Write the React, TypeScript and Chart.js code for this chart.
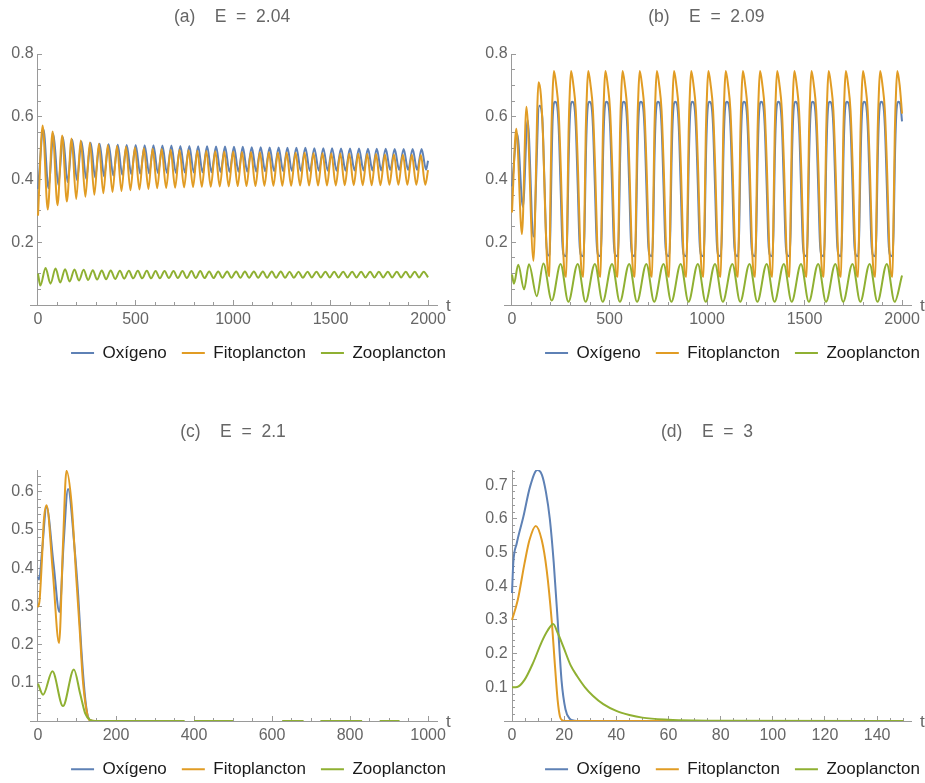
import { useEffect, useRef } from 'react';
import { Chart, registerables } from 'chart.js';

Chart.register(...registerables);
Chart.defaults.font.family = '"Liberation Sans", Arial, sans-serif';

// ---------- Panel (a)  E = 2.04 ----------
const tFa = [0, 24, 50, 75, 100, 124, 148, 172, 196, 219,
  243, 266, 289, 312, 335, 358, 382, 405, 428, 451,
  474, 497, 520, 543, 566, 588, 611, 634, 657, 680,
  703, 726, 749, 772, 795, 817, 840, 863, 886, 909,
  932, 955, 978, 1001, 1024, 1046, 1069, 1092, 1115, 1138,
  1161, 1184, 1207, 1230, 1253, 1275, 1298, 1321, 1344, 1367,
  1390, 1413, 1436, 1459, 1482, 1504, 1527, 1550, 1573, 1596,
  1619, 1642, 1665, 1688, 1711, 1733, 1756, 1779, 1802, 1825,
  1848, 1871, 1894, 1917, 1940, 1963, 1986, 2000];
const vFa = [0.285,
  0.572, 0.304, 0.553, 0.318, 0.540, 0.330, 0.531, 0.338, 0.524, 0.345,
  0.518, 0.351, 0.514, 0.356, 0.510, 0.360, 0.507, 0.363, 0.504, 0.366,
  0.502, 0.368, 0.500, 0.370, 0.498, 0.372, 0.497, 0.373, 0.495, 0.374,
  0.494, 0.375, 0.493, 0.376, 0.492, 0.377, 0.491, 0.377, 0.490, 0.378,
  0.489, 0.378, 0.489, 0.379, 0.488, 0.379, 0.488, 0.379, 0.487, 0.380,
  0.487, 0.380, 0.486, 0.380, 0.486, 0.380, 0.485, 0.381, 0.485, 0.381,
  0.484, 0.381, 0.484, 0.381, 0.483, 0.381, 0.483, 0.382, 0.482, 0.382,
  0.482, 0.382, 0.481, 0.382, 0.481, 0.382, 0.480, 0.383, 0.480, 0.383,
  0.479, 0.383, 0.479, 0.383, 0.478, 0.383,
  0.43];
const tOa = [0, 28, 54, 79, 104, 128, 152, 176, 200, 223,
  247, 270, 293, 316, 339, 362, 386, 409, 432, 455,
  478, 501, 524, 547, 570, 592, 615, 638, 661, 684,
  707, 730, 753, 776, 799, 821, 844, 867, 890, 913,
  936, 959, 982, 1005, 1028, 1050, 1073, 1096, 1119, 1142,
  1165, 1188, 1211, 1234, 1257, 1279, 1302, 1325, 1348, 1371,
  1394, 1417, 1440, 1463, 1486, 1508, 1531, 1554, 1577, 1600,
  1623, 1646, 1669, 1692, 1715, 1737, 1760, 1783, 1806, 1829,
  1852, 1875, 1898, 1921, 1944, 1967, 1990, 2000];
const vOa = [0.37,
  0.560, 0.372, 0.545, 0.383, 0.535, 0.392, 0.527, 0.398, 0.521, 0.403,
  0.517, 0.407, 0.514, 0.410, 0.512, 0.413, 0.511, 0.415, 0.510, 0.417,
  0.510, 0.418, 0.509, 0.419, 0.509, 0.420, 0.508, 0.421, 0.508, 0.421,
  0.507, 0.422, 0.507, 0.422, 0.506, 0.423, 0.506, 0.423, 0.505, 0.424,
  0.505, 0.424, 0.504, 0.425, 0.504, 0.425, 0.503, 0.425, 0.503, 0.426,
  0.502, 0.426, 0.502, 0.426, 0.501, 0.427, 0.501, 0.427, 0.501, 0.427,
  0.500, 0.428, 0.500, 0.428, 0.500, 0.428, 0.499, 0.428, 0.499, 0.429,
  0.499, 0.429, 0.498, 0.429, 0.498, 0.429, 0.498, 0.430, 0.497, 0.430,
  0.497, 0.430, 0.497, 0.430, 0.497, 0.431,
  0.46];
const tZa = [0, 12, 39, 64, 90, 114, 139, 162, 187, 210,
  234, 257, 281, 303, 327, 349, 373, 396, 420, 442,
  466, 488, 512, 534, 558, 580, 603, 625, 649, 671,
  695, 717, 741, 763, 787, 809, 832, 854, 878, 900,
  924, 946, 970, 992, 1016, 1038, 1061, 1083, 1107, 1129,
  1153, 1175, 1199, 1221, 1245, 1267, 1290, 1312, 1336, 1358,
  1382, 1404, 1428, 1450, 1474, 1496, 1519, 1541, 1565, 1587,
  1611, 1633, 1657, 1679, 1703, 1725, 1748, 1770, 1794, 1816,
  1840, 1862, 1886, 1908, 1932, 1954, 1978, 2000];
const vZa = [0.100, 0.062,
  0.118, 0.068, 0.116, 0.072, 0.114, 0.075, 0.113, 0.078, 0.112, 0.080,
  0.111, 0.081, 0.110, 0.082, 0.110, 0.083, 0.109, 0.084, 0.109, 0.085,
  0.109, 0.085, 0.109, 0.085, 0.108, 0.085, 0.108, 0.086, 0.108, 0.086,
  0.108, 0.086, 0.108, 0.086, 0.108, 0.086, 0.107, 0.086, 0.107, 0.087,
  0.107, 0.087, 0.107, 0.087, 0.107, 0.087, 0.107, 0.087, 0.107, 0.087,
  0.107, 0.087, 0.107, 0.087, 0.106, 0.087, 0.106, 0.087, 0.106, 0.088,
  0.106, 0.088, 0.106, 0.088, 0.106, 0.088, 0.106, 0.088, 0.106, 0.088,
  0.106, 0.088, 0.106, 0.088, 0.106, 0.088, 0.106, 0.088, 0.106, 0.088,
  0.106, 0.088, 0.106, 0.088, 0.106, 0.088];

// ---------- Panel (b)  E = 2.09 ----------
const tFb = [0, 22, 51, 74, 110, 136, 148, 160, 170, 180, 187, 192, 196, 202, 209,
  215, 227, 239, 251, 261, 270, 278, 284, 290, 297,
  303, 315, 327, 339, 349, 358, 366, 372, 378, 385,
  391, 403, 415, 427, 437, 446, 454, 460, 466, 473,
  479, 491, 503, 515, 525, 534, 542, 548, 554, 561,
  567, 579, 591, 603, 613, 622, 630, 636, 642, 649,
  655, 667, 679, 691, 701, 710, 718, 724, 730, 737,
  743, 755, 767, 779, 789, 798, 806, 812, 818, 825,
  831, 843, 855, 867, 877, 886, 894, 900, 906, 913,
  919, 931, 943, 955, 965, 974, 982, 988, 994, 1001,
  1007, 1019, 1031, 1043, 1053, 1062, 1070, 1077, 1083, 1090,
  1096, 1108, 1120, 1132, 1142, 1151, 1159, 1165, 1171, 1178,
  1184, 1196, 1208, 1220, 1230, 1239, 1247, 1253, 1259, 1266,
  1272, 1284, 1296, 1308, 1318, 1327, 1335, 1341, 1347, 1354,
  1360, 1372, 1384, 1396, 1406, 1415, 1423, 1429, 1435, 1442,
  1448, 1460, 1472, 1484, 1494, 1503, 1511, 1517, 1523, 1530,
  1536, 1548, 1560, 1572, 1582, 1591, 1599, 1605, 1611, 1618,
  1624, 1636, 1648, 1660, 1670, 1679, 1687, 1693, 1699, 1706,
  1712, 1724, 1736, 1748, 1758, 1767, 1775, 1781, 1787, 1794,
  1800, 1812, 1824, 1836, 1846, 1855, 1863, 1869, 1875, 1882,
  1888, 1900, 1912, 1924, 1934, 1943, 1951, 1957, 1963, 1970,
  1976, 1988, 2000];
const vFb = [0.295, 0.562, 0.226, 0.632, 0.141, 0.710, 0.67, 0.52, 0.30, 0.14, 0.10, 0.092, 0.30, 0.55, 0.69,
  0.746, 0.70, 0.62, 0.42, 0.20, 0.10, 0.090, 0.30, 0.55, 0.69,
  0.746, 0.70, 0.62, 0.42, 0.20, 0.10, 0.090, 0.30, 0.55, 0.69,
  0.746, 0.70, 0.62, 0.42, 0.20, 0.10, 0.090, 0.30, 0.55, 0.69,
  0.746, 0.70, 0.62, 0.42, 0.20, 0.10, 0.090, 0.30, 0.55, 0.69,
  0.746, 0.70, 0.62, 0.42, 0.20, 0.10, 0.090, 0.30, 0.55, 0.69,
  0.746, 0.70, 0.62, 0.42, 0.20, 0.10, 0.090, 0.30, 0.55, 0.69,
  0.746, 0.70, 0.62, 0.42, 0.20, 0.10, 0.090, 0.30, 0.55, 0.69,
  0.746, 0.70, 0.62, 0.42, 0.20, 0.10, 0.090, 0.30, 0.55, 0.69,
  0.746, 0.70, 0.62, 0.42, 0.20, 0.10, 0.090, 0.30, 0.55, 0.69,
  0.746, 0.70, 0.62, 0.42, 0.20, 0.10, 0.090, 0.30, 0.55, 0.69,
  0.746, 0.70, 0.62, 0.42, 0.20, 0.10, 0.090, 0.30, 0.55, 0.69,
  0.746, 0.70, 0.62, 0.42, 0.20, 0.10, 0.090, 0.30, 0.55, 0.69,
  0.746, 0.70, 0.62, 0.42, 0.20, 0.10, 0.090, 0.30, 0.55, 0.69,
  0.746, 0.70, 0.62, 0.42, 0.20, 0.10, 0.090, 0.30, 0.55, 0.69,
  0.746, 0.70, 0.62, 0.42, 0.20, 0.10, 0.090, 0.30, 0.55, 0.69,
  0.746, 0.70, 0.62, 0.42, 0.20, 0.10, 0.090, 0.30, 0.55, 0.69,
  0.746, 0.70, 0.62, 0.42, 0.20, 0.10, 0.090, 0.30, 0.55, 0.69,
  0.746, 0.70, 0.62, 0.42, 0.20, 0.10, 0.090, 0.30, 0.55, 0.69,
  0.746, 0.70, 0.62, 0.42, 0.20, 0.10, 0.090, 0.30, 0.55, 0.69,
  0.746, 0.70, 0.62, 0.42, 0.20, 0.10, 0.090, 0.30, 0.55, 0.69,
  0.746, 0.70, 0.61];
const tOb = [0, 27, 56, 80, 110, 140, 155, 166, 176, 184, 192, 197, 203, 209,
  220, 230, 239, 249, 258, 265, 278, 284, 290, 297,
  308, 318, 327, 337, 346, 353, 366, 372, 378, 385,
  396, 406, 415, 425, 434, 441, 454, 460, 466, 473,
  484, 494, 503, 513, 522, 529, 542, 548, 554, 561,
  572, 582, 591, 601, 610, 617, 630, 636, 642, 649,
  660, 670, 679, 689, 698, 705, 718, 724, 730, 737,
  748, 758, 767, 777, 786, 793, 806, 812, 818, 825,
  836, 846, 855, 865, 874, 881, 894, 900, 906, 913,
  924, 934, 943, 953, 962, 969, 982, 988, 994, 1001,
  1012, 1022, 1031, 1041, 1050, 1057, 1070, 1077, 1083, 1090,
  1101, 1111, 1120, 1130, 1139, 1146, 1159, 1165, 1171, 1178,
  1189, 1199, 1208, 1218, 1227, 1234, 1247, 1253, 1259, 1266,
  1277, 1287, 1296, 1306, 1315, 1322, 1335, 1341, 1347, 1354,
  1365, 1375, 1384, 1394, 1403, 1410, 1423, 1429, 1435, 1442,
  1453, 1463, 1472, 1482, 1491, 1498, 1511, 1517, 1523, 1530,
  1541, 1551, 1560, 1570, 1579, 1586, 1599, 1605, 1611, 1618,
  1629, 1639, 1648, 1658, 1667, 1674, 1687, 1693, 1699, 1706,
  1717, 1727, 1736, 1746, 1755, 1762, 1775, 1781, 1787, 1794,
  1805, 1815, 1824, 1834, 1843, 1850, 1863, 1869, 1875, 1882,
  1893, 1903, 1912, 1922, 1931, 1938, 1951, 1957, 1963, 1970,
  1981, 1991, 2000];
const vOb = [0.378, 0.545, 0.312, 0.590, 0.218, 0.635, 0.60, 0.40, 0.20, 0.158, 0.16, 0.24, 0.45, 0.60,
  0.648, 0.64, 0.57, 0.38, 0.20, 0.16, 0.155, 0.24, 0.45, 0.60,
  0.648, 0.64, 0.57, 0.38, 0.20, 0.16, 0.155, 0.24, 0.45, 0.60,
  0.648, 0.64, 0.57, 0.38, 0.20, 0.16, 0.155, 0.24, 0.45, 0.60,
  0.648, 0.64, 0.57, 0.38, 0.20, 0.16, 0.155, 0.24, 0.45, 0.60,
  0.648, 0.64, 0.57, 0.38, 0.20, 0.16, 0.155, 0.24, 0.45, 0.60,
  0.648, 0.64, 0.57, 0.38, 0.20, 0.16, 0.155, 0.24, 0.45, 0.60,
  0.648, 0.64, 0.57, 0.38, 0.20, 0.16, 0.155, 0.24, 0.45, 0.60,
  0.648, 0.64, 0.57, 0.38, 0.20, 0.16, 0.155, 0.24, 0.45, 0.60,
  0.648, 0.64, 0.57, 0.38, 0.20, 0.16, 0.155, 0.24, 0.45, 0.60,
  0.648, 0.64, 0.57, 0.38, 0.20, 0.16, 0.155, 0.24, 0.45, 0.60,
  0.648, 0.64, 0.57, 0.38, 0.20, 0.16, 0.155, 0.24, 0.45, 0.60,
  0.648, 0.64, 0.57, 0.38, 0.20, 0.16, 0.155, 0.24, 0.45, 0.60,
  0.648, 0.64, 0.57, 0.38, 0.20, 0.16, 0.155, 0.24, 0.45, 0.60,
  0.648, 0.64, 0.57, 0.38, 0.20, 0.16, 0.155, 0.24, 0.45, 0.60,
  0.648, 0.64, 0.57, 0.38, 0.20, 0.16, 0.155, 0.24, 0.45, 0.60,
  0.648, 0.64, 0.57, 0.38, 0.20, 0.16, 0.155, 0.24, 0.45, 0.60,
  0.648, 0.64, 0.57, 0.38, 0.20, 0.16, 0.155, 0.24, 0.45, 0.60,
  0.648, 0.64, 0.57, 0.38, 0.20, 0.16, 0.155, 0.24, 0.45, 0.60,
  0.648, 0.64, 0.57, 0.38, 0.20, 0.16, 0.155, 0.24, 0.45, 0.60,
  0.648, 0.64, 0.57, 0.38, 0.20, 0.16, 0.155, 0.24, 0.45, 0.60,
  0.648, 0.64, 0.585];
const tZb = [0, 10, 32, 62, 87, 127, 161, 204, 249, 289,
  337, 377, 425, 465, 513, 553, 601, 641, 689, 729,
  777, 817, 865, 905, 953, 993, 1041, 1081, 1130, 1170,
  1218, 1258, 1306, 1346, 1394, 1434, 1482, 1522, 1570, 1610,
  1658, 1698, 1746, 1786, 1834, 1874, 1922, 1962, 2000];
const vZb = [0.097, 0.068, 0.128, 0.050, 0.130, 0.028, 0.132, 0.014, 0.131, 0.010,
  0.131, 0.010, 0.131, 0.010, 0.131, 0.010, 0.131, 0.010, 0.131, 0.010,
  0.131, 0.010, 0.131, 0.010, 0.131, 0.010, 0.131, 0.010, 0.131, 0.010,
  0.131, 0.010, 0.131, 0.010, 0.131, 0.010, 0.131, 0.010, 0.131, 0.010,
  0.131, 0.010, 0.131, 0.010, 0.131, 0.010, 0.131, 0.010, 0.094];

// ---------- Panel (c)  E = 2.1 ----------
const tFc = [0, 4, 10, 15, 22, 38, 54, 64, 73, 86, 98, 107, 115, 124, 132, 150];
const vFc = [0.298, 0.315, 0.42, 0.525, 0.565, 0.39, 0.204, 0.46, 0.655, 0.57, 0.377, 0.238, 0.107, 0.03, 0.002, 0];
const tOc = [0, 3, 10, 22, 40, 55, 66, 77, 94, 103, 111, 120, 128, 137, 150];
const vOc = [0.378, 0.37, 0.44, 0.56, 0.41, 0.285, 0.47, 0.607, 0.45, 0.33, 0.19, 0.07, 0.012, 0.001, 0];
const tZc = [0, 13, 37, 64, 92, 108, 121, 133, 145, 376, 388, 400, 500, 563, 626, 681, 702, 724, 831, 853, 876, 927];
const vZc = [0.098, 0.069, 0.13, 0.039, 0.135, 0.072, 0.02, 0.003, 0, 0, null, 0, 0, null, 0, 0, null, 0, 0, null, 0, 0];

// ---------- Panel (d)  E = 3 ----------
const tOd = [0, 0.5, 1.8, 4.35, 6.9, 9.7, 11.5, 13, 14.5, 16, 17.5, 19, 20.5, 22, 24, 26, 150];
const vOd = [0.38, 0.47, 0.527, 0.606, 0.695, 0.745, 0.73, 0.68, 0.6, 0.47, 0.3, 0.12, 0.035, 0.008, 0.001, 0, 0];
const tFd = [0, 2.2, 4.8, 6.7, 9.1, 11.4, 13.3, 15.2, 16.5, 17.5, 18.4, 19.3, 21, 150];
const vFd = [0.3, 0.359, 0.468, 0.537, 0.579, 0.537, 0.448, 0.3, 0.161, 0.062, 0.013, 0.002, 0, 0];
const tZd = [0, 2, 4.8, 8, 11.4, 13.6, 15.8, 17.5, 19.7, 22.5, 25, 28, 31, 35, 40, 45, 50, 60, 70, 80, 150];
const vZd = [0.1, 0.101, 0.122, 0.171, 0.235, 0.268, 0.288, 0.262, 0.22, 0.165, 0.133, 0.1, 0.075, 0.05, 0.03, 0.018, 0.01, 0.004, 0.0015, 0.0005, 0];

// ---------- Tick labels ----------
const xTicksAB = [0, 500, 1000, 1500, 2000];
const yTicksAB = [0.2, 0.4, 0.6, 0.8];
const xTicksC = [0, 200, 400, 600, 800, 1000];
const yTicksC = [0.1, 0.2, 0.3, 0.4, 0.5, 0.6];
const xTicksD = [0, 20, 40, 60, 80, 100, 120, 140];
const yTicksD = [0.1, 0.2, 0.3, 0.4, 0.5, 0.6, 0.7];

const seriesNames = ['Oxígeno', 'Fitoplancton', 'Zooplancton'];
const titles = ['(a)    E  =  2.04', '(b)    E  =  2.09', '(c)    E  =  2.1', '(d)    E  =  3'];

const BLUE = '#5E81B5';
const ORANGE = '#E19C24';
const GREEN = '#8FB032';
const AXIS = '#9a9a9a';
const TICK = '#666666';

const pts = (t: number[], v: (number | null)[]) => t.map((x, i) => ({ x, y: v[i] }));

type Panel = {
  title: string;
  O: any[]; F: any[]; Z: any[];
  xMin: number; xMax: number; xTicks: number[]; xMinor: number;
  yMax: number; yTicks: number[]; yMinor: number;
  padL: number; padR: number; wL: number; wR: number;
  titleTop: number; titleBottom: number; padB: number; xH: number;
};

const PANELS: Panel[] = [
  { title: titles[0], O: pts(tOa, vOa), F: pts(tFa, vFa), Z: pts(tZa, vZa),
    xMin: -41, xMax: 2046, xTicks: xTicksAB, xMinor: 100, yMax: 0.8, yTicks: yTicksAB, yMinor: 0.05,
    padL: 3, padR: 479, wL: 27, wR: 24, titleTop: 7, titleBottom: 26, padB: 428.5, xH: 24.5 },
  { title: titles[1], O: pts(tOb, vOb), F: pts(tFb, vFb), Z: pts(tZb, vZb),
    xMin: -41, xMax: 2046, xTicks: xTicksAB, xMinor: 100, yMax: 0.8, yTicks: yTicksAB, yMinor: 0.05,
    padL: 477.6, padR: 5, wL: 26.4, wR: 24, titleTop: 7, titleBottom: 26, padB: 428.5, xH: 24.5 },
  { title: titles[2], O: pts(tOc, vOc), F: pts(tFc, vFc), Z: pts(tZc, vZc),
    xMin: -20.5, xMax: 1023, xTicks: xTicksC, xMinor: 50, yMax: 0.657, yTicks: yTicksC, yMinor: 0.02,
    padL: 5, padR: 479, wL: 25, wR: 24, titleTop: 421.2, titleBottom: 27.8, padB: 12.3, xH: 24.7 },
  { title: titles[3], O: pts(tOd, vOd), F: pts(tFd, vFd), Z: pts(tZd, vZd),
    xMin: -3.07, xMax: 153, xTicks: xTicksD, xMinor: 5, yMax: 0.745, yTicks: yTicksD, yMinor: 0.02,
    padL: 479, padR: 5, wL: 25, wR: 24, titleTop: 421.2, titleBottom: 27.8, padB: 12.3, xH: 24.7 },
];

const tAxisLabel = {
  id: 'tAxisLabel',
  afterDraw(chart: any) {
    const xs = chart.scales.x;
    const ys = chart.scales.y;
    const ctx = chart.ctx;
    ctx.save();
    ctx.font = '17px "Liberation Sans", Arial, sans-serif';
    ctx.fillStyle = TICK;
    ctx.textAlign = 'left';
    ctx.textBaseline = 'middle';
    ctx.fillText('t', xs.right + 9, ys.getPixelForValue(0) + 1);
    ctx.restore();
  },
};

function buildConfig(p: Panel): any {
  const colors = [BLUE, ORANGE, GREEN];
  const data = [p.O, p.F, p.Z];
  const datasets = seriesNames.map((name, i) => ({
    label: name,
    data: data[i],
    borderColor: colors[i],
    backgroundColor: colors[i],
    borderWidth: 2,
    pointRadius: 0,
    pointHoverRadius: 0,
    fill: false,
    cubicInterpolationMode: 'monotone',
    spanGaps: false,
    order: 3 - i,
    xAxisID: 'x',
    yAxisID: 'y',
  }));
  return {
    type: 'line',
    data: { datasets },
    options: {
      responsive: false,
      animation: false,
      events: [],
      layout: { autoPadding: false, padding: { left: p.padL, right: p.padR, top: 0, bottom: p.padB } },
      plugins: {
        title: {
          display: true, text: p.title, color: TICK,
          font: { size: 17.5, weight: 'normal' },
          padding: { top: p.titleTop, bottom: p.titleBottom },
        },
        legend: {
          display: true, position: 'bottom', align: 'end',
          labels: {
            usePointStyle: true, pointStyle: 'line', pointStyleWidth: 23,
            padding: 15, color: '#1a1a1a', font: { size: 17 },
            sort: (a: any, b: any) => a.datasetIndex - b.datasetIndex,
          },
        },
        tooltip: { enabled: false },
      },
      scales: {
        x: {
          type: 'linear', position: 'bottom', min: p.xMin, max: p.xMax,
          afterFit: (s: any) => { s.height = p.xH; },
          afterBuildTicks: (s: any) => { s.ticks = p.xTicks.map((v) => ({ value: v })); },
          grid: { display: true, drawOnChartArea: false, drawTicks: true, tickLength: -5, color: AXIS, tickColor: AXIS, lineWidth: 1 },
          border: { display: true, color: AXIS, width: 1 },
          ticks: { autoSkip: false, maxRotation: 0, minRotation: 0, padding: 9.6, color: TICK, font: { size: 16 }, callback: (v: any) => String(v) },
        },
        y: {
          type: 'linear', position: { x: 0 }, min: 0, max: p.yMax,
          afterFit: (s: any) => { s.width = 0; },
          afterBuildTicks: (s: any) => { s.ticks = p.yTicks.map((v) => ({ value: v })); },
          grid: { display: true, drawOnChartArea: false, drawTicks: true, tickLength: -5, color: AXIS, tickColor: AXIS, lineWidth: 1 },
          border: { display: true, color: AXIS, width: 1 },
          ticks: { autoSkip: false, padding: 0, color: TICK, font: { size: 16 }, callback: (v: any) => Number(v).toFixed(1) + ' ' },
        },
        xMinor: {
          type: 'linear', axis: 'x', position: { y: 0 }, min: p.xMin, max: p.xMax,
          afterFit: (s: any) => { s.height = 0; },
          grid: { display: true, drawOnChartArea: false, drawTicks: true, tickLength: -3, color: AXIS, tickColor: AXIS, lineWidth: 1 },
          border: { display: false },
          ticks: { display: false, stepSize: p.xMinor, includeBounds: false },
        },
        yMinor: {
          type: 'linear', axis: 'y', position: { x: 0 }, min: 0, max: p.yMax,
          afterFit: (s: any) => { s.width = 0; },
          grid: { display: true, drawOnChartArea: false, drawTicks: true, tickLength: -3, color: AXIS, tickColor: AXIS, lineWidth: 1 },
          border: { display: false },
          ticks: { display: false, stepSize: p.yMinor, includeBounds: false },
        },
        padLeft: {
          type: 'linear', axis: 'y', position: 'left', min: 0, max: 1,
          afterFit: (s: any) => { s.width = p.wL; },
          grid: { display: false }, border: { display: false }, ticks: { display: false },
        },
        padRight: {
          type: 'linear', axis: 'y', position: 'right', min: 0, max: 1,
          afterFit: (s: any) => { s.width = p.wR; },
          grid: { display: false }, border: { display: false }, ticks: { display: false },
        },
      },
    },
    plugins: [tAxisLabel],
  };
}

export default function App() {
  const r0 = useRef<HTMLCanvasElement>(null);
  const r1 = useRef<HTMLCanvasElement>(null);
  const r2 = useRef<HTMLCanvasElement>(null);
  const r3 = useRef<HTMLCanvasElement>(null);
  const refs = [r0, r1, r2, r3];

  useEffect(() => {
    const charts = PANELS.map((p, i) => new Chart(refs[i].current as HTMLCanvasElement, buildConfig(p)));
    return () => { charts.forEach((c) => c.destroy()); };
  }, []);

  return (
    <div style={{ position: 'absolute', left: 0, top: 0, width: 925, height: 783, overflow: 'hidden', background: '#ffffff' }}>
      {PANELS.map((p, i) => (
        <canvas key={i} ref={refs[i]} width={940} height={800}
          style={{ position: 'absolute', left: 0, top: 0, width: 940, height: 800 }} />
      ))}
    </div>
  );
}
